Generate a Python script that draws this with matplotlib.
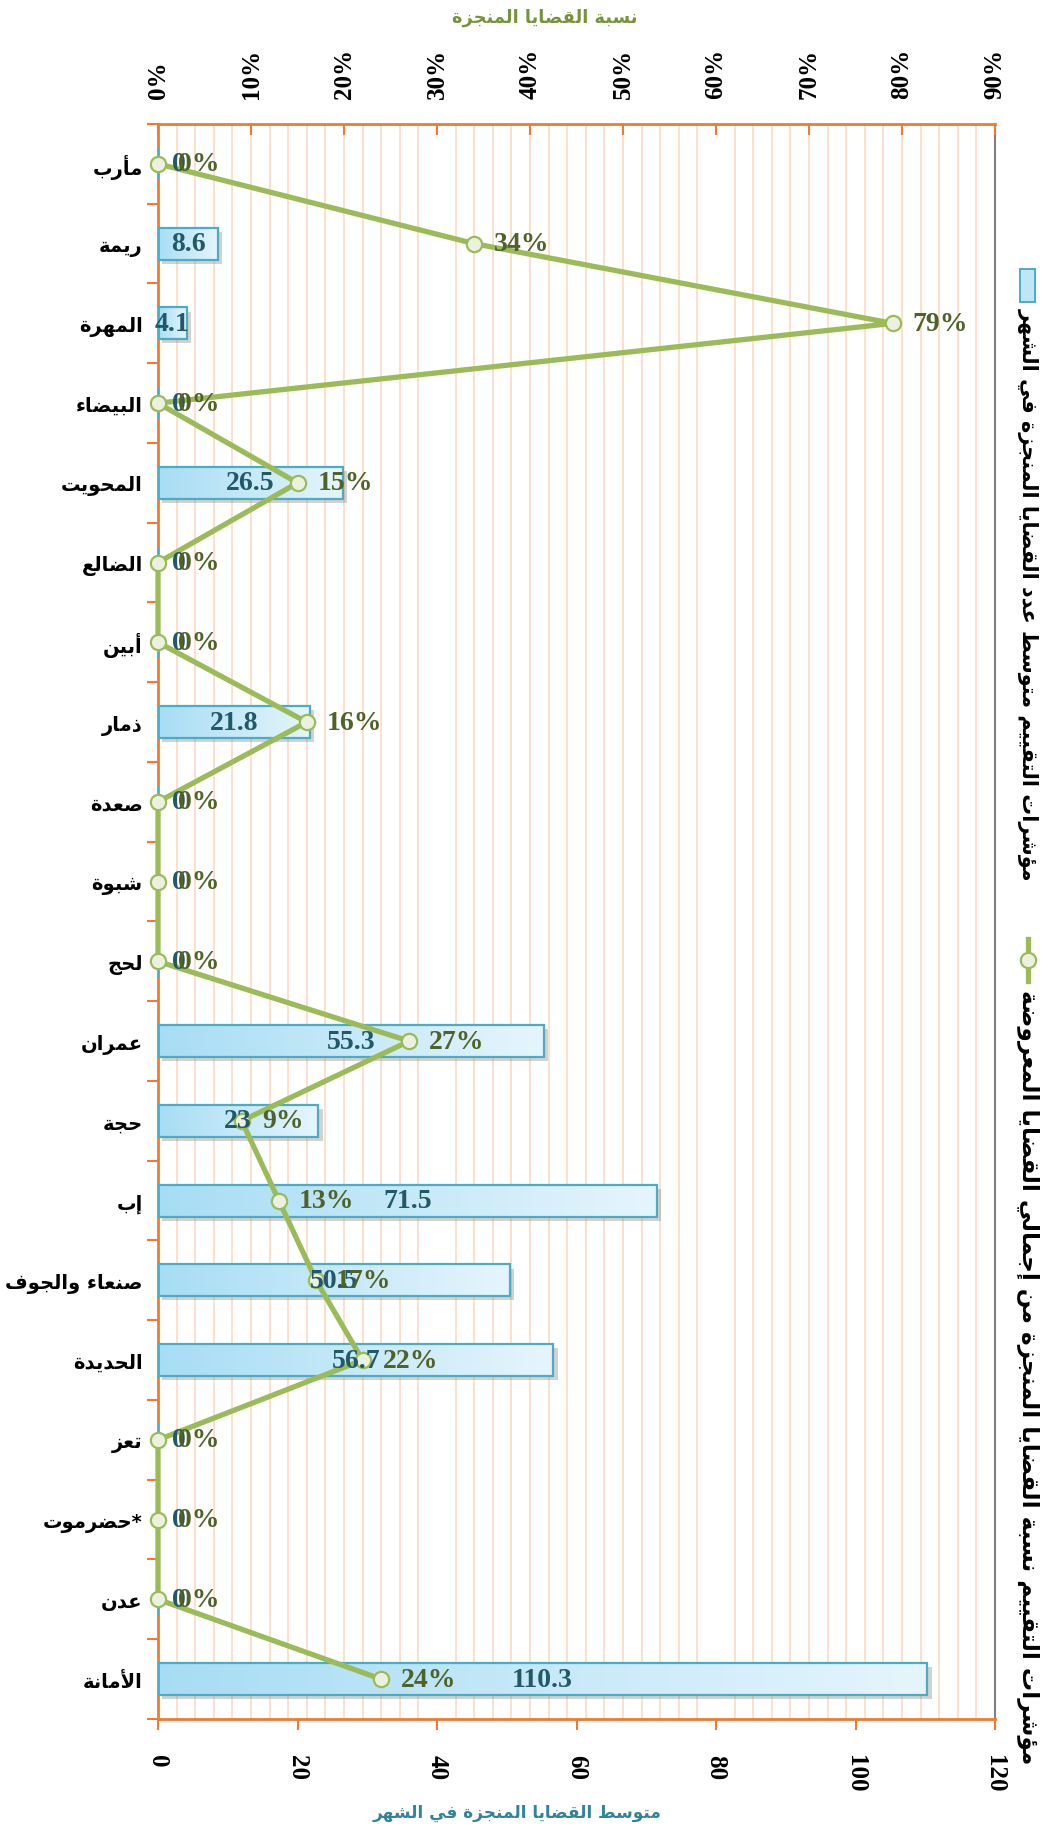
import numpy as np
import matplotlib
matplotlib.use('Agg')
import matplotlib.pyplot as plt
import matplotlib.patheffects as pe
from matplotlib.colors import LinearSegmentedColormap
from matplotlib.patches import Rectangle
from matplotlib.lines import Line2D

# ---------------- data ----------------
categories = ['مأرب', 'ريمة', 'المهرة', 'البيضاء', 'المحويت', 'الضالع', 'أبين', 'ذمار',
              'صعدة', 'شبوة', 'لحج', 'عمران', 'حجة', 'إب', 'صنعاء والجوف', 'الحديدة',
              'تعز', 'حضرموت*', 'عدن', 'الأمانة']
avg_cases = [0, 8.6, 4.1, 0, 26.5, 0, 0, 21.8, 0, 0, 0, 55.3, 23, 71.5, 50.5, 56.7, 0, 0, 0, 110.3]
pct_done = [0, 0.34, 0.79, 0, 0.15, 0, 0, 0.16, 0, 0, 0, 0.27, 0.09, 0.13, 0.17, 0.22, 0, 0, 0, 0.24]
bottom_ticks = [0, 20, 40, 60, 80, 100, 120]
top_ticks = [0, 0.1, 0.2, 0.3, 0.4, 0.5, 0.6, 0.7, 0.8, 0.9]
top_title = 'نسبة القضايا المنجزة'
bottom_title = 'متوسط القضايا المنجزة في الشهر'
legend_bar = 'مؤشرات التقييم متوسط عدد القضايا المنجزة في الشهر'
legend_line = 'مؤشرات التقييم نسبة القضايا المنجزة من إجمالي القضايا المعروضة'

# ---------------- minimal Arabic shaping ----------------
FORMS = {
    '\u0621': ('\uFE80', None, None, None),
    '\u0622': ('\uFE81', '\uFE82', None, None),
    '\u0623': ('\uFE83', '\uFE84', None, None),
    '\u0624': ('\uFE85', '\uFE86', None, None),
    '\u0625': ('\uFE87', '\uFE88', None, None),
    '\u0626': ('\uFE89', '\uFE8A', '\uFE8B', '\uFE8C'),
    '\u0627': ('\uFE8D', '\uFE8E', None, None),
    '\u0628': ('\uFE8F', '\uFE90', '\uFE91', '\uFE92'),
    '\u0629': ('\uFE93', '\uFE94', None, None),
    '\u062A': ('\uFE95', '\uFE96', '\uFE97', '\uFE98'),
    '\u062B': ('\uFE99', '\uFE9A', '\uFE9B', '\uFE9C'),
    '\u062C': ('\uFE9D', '\uFE9E', '\uFE9F', '\uFEA0'),
    '\u062D': ('\uFEA1', '\uFEA2', '\uFEA3', '\uFEA4'),
    '\u062E': ('\uFEA5', '\uFEA6', '\uFEA7', '\uFEA8'),
    '\u062F': ('\uFEA9', '\uFEAA', None, None),
    '\u0630': ('\uFEAB', '\uFEAC', None, None),
    '\u0631': ('\uFEAD', '\uFEAE', None, None),
    '\u0632': ('\uFEAF', '\uFEB0', None, None),
    '\u0633': ('\uFEB1', '\uFEB2', '\uFEB3', '\uFEB4'),
    '\u0634': ('\uFEB5', '\uFEB6', '\uFEB7', '\uFEB8'),
    '\u0635': ('\uFEB9', '\uFEBA', '\uFEBB', '\uFEBC'),
    '\u0636': ('\uFEBD', '\uFEBE', '\uFEBF', '\uFEC0'),
    '\u0637': ('\uFEC1', '\uFEC2', '\uFEC3', '\uFEC4'),
    '\u0638': ('\uFEC5', '\uFEC6', '\uFEC7', '\uFEC8'),
    '\u0639': ('\uFEC9', '\uFECA', '\uFECB', '\uFECC'),
    '\u063A': ('\uFECD', '\uFECE', '\uFECF', '\uFED0'),
    '\u0641': ('\uFED1', '\uFED2', '\uFED3', '\uFED4'),
    '\u0642': ('\uFED5', '\uFED6', '\uFED7', '\uFED8'),
    '\u0643': ('\uFED9', '\uFEDA', '\uFEDB', '\uFEDC'),
    '\u0644': ('\uFEDD', '\uFEDE', '\uFEDF', '\uFEE0'),
    '\u0645': ('\uFEE1', '\uFEE2', '\uFEE3', '\uFEE4'),
    '\u0646': ('\uFEE5', '\uFEE6', '\uFEE7', '\uFEE8'),
    '\u0647': ('\uFEE9', '\uFEEA', '\uFEEB', '\uFEEC'),
    '\u0648': ('\uFEED', '\uFEEE', None, None),
    '\u0649': ('\uFEEF', '\uFEF0', None, None),
    '\u064A': ('\uFEF1', '\uFEF2', '\uFEF3', '\uFEF4'),
}
LAM_ALEF = {'\u0622': ('\uFEF5', '\uFEF6'), '\u0623': ('\uFEF7', '\uFEF8'),
            '\u0625': ('\uFEF9', '\uFEFA'), '\u0627': ('\uFEFB', '\uFEFC')}


def _shape_core(text):
    items = []
    i = 0
    while i < len(text):
        c = text[i]
        if c == '\u0644' and i + 1 < len(text) and text[i + 1] in LAM_ALEF:
            items.append(('LA', text[i + 1]))
            i += 2
        else:
            items.append((c, None))
            i += 1

    def dual(it):
        if it[0] == 'LA':
            return False
        f = FORMS.get(it[0])
        return f is not None and f[2] is not None

    def joining(it):
        if it[0] == 'LA':
            return True
        f = FORMS.get(it[0])
        return f is not None and f[1] is not None

    res = []
    for k, it in enumerate(items):
        prev = items[k - 1] if k > 0 else None
        nxt = items[k + 1] if k + 1 < len(items) else None
        jp = prev is not None and dual(prev) and joining(it)
        jn = dual(it) and nxt is not None and joining(nxt)
        if it[0] == 'LA':
            res.append(LAM_ALEF[it[1]][1 if jp else 0])
            continue
        f = FORMS.get(it[0])
        if f is None:
            res.append(it[0])
        elif jp and jn:
            res.append(f[3])
        elif jp:
            res.append(f[1])
        elif jn:
            res.append(f[2])
        else:
            res.append(f[0])
    return ''.join(reversed(res))


def ar(text):
    trail = ''
    while text and text[-1] in '*':
        trail = text[-1] + trail
        text = text[:-1]
    return _shape_core(text) + trail


# ---------------- styling ----------------
W, H = 1042, 1831
fig = plt.figure(figsize=(W / 100, H / 100), dpi=100)
fig.patch.set_facecolor('white')


def fx(px):
    return px / W


def fy(py):
    return 1 - py / H


L, R, T, B = 158, 995, 125, 1720
ax = fig.add_axes([fx(L), fy(B), (R - L) / W, (B - T) / H])
ax2 = ax.twiny()

ORANGE = '#ee7b30'
GRID = '#fce0cc'
GREEN = '#9bbb59'
BAR_EDGE = '#4bacc6'
BAR_LBL = '#215968'
PCT_LBL = '#4f6228'
NUM_FONT = dict(family=['Liberation Serif', 'DejaVu Serif'], weight='bold')
AR_FONT = dict(family=['DejaVu Sans'], weight='bold')
LBL_SIZE = 20

n = len(categories)
ypos = np.arange(n)

# bars with shadow
bars = ax.barh(ypos, avg_cases, height=0.4, color='#c3e8f8', edgecolor='none', zorder=2,
               path_effects=[pe.SimplePatchShadow(offset=(3, -3), shadow_rgbFace='#7f7f7f', alpha=0.35),
                             pe.Normal()])
cmap = LinearSegmentedColormap.from_list('g', ['#a7ddf4', '#c6e9f8', '#e6f5fc'])
grad = np.linspace(0, 1, 256).reshape(1, -1)
for p in bars:
    if p.get_width() <= 0:
        continue
    x0, y0 = p.get_x(), p.get_y()
    im = ax.imshow(grad, extent=[x0, x0 + p.get_width(), y0 + p.get_height(), y0],
                   aspect='auto', cmap=cmap, zorder=2.5, interpolation='bilinear')
    im.set_clip_path(p)
ax.barh(ypos, avg_cases, height=0.4, facecolor='none', edgecolor=BAR_EDGE, linewidth=1.6, zorder=3)

# line on secondary (top) axis
ax2.plot(pct_done, ypos, '-o', color=GREEN, lw=3.8, ms=11, mfc='#ebf1de', mec=GREEN, mew=1.6,
         clip_on=False, zorder=5)

# bar labels (drawn above the line, positioned in bar-axis data coords)
for i, v in enumerate(avg_cases):
    s = f'{v:g}'
    if v == 0:
        ax2.annotate(s, (0, i), xycoords=ax.transData, xytext=(10, 0), textcoords='offset points',
                     ha='left', va='center', color=BAR_LBL, fontsize=LBL_SIZE, zorder=6, **NUM_FONT)
    else:
        ax2.text(v / 2, i, s, transform=ax.transData, ha='center', va='center', color=BAR_LBL,
                 fontsize=LBL_SIZE, zorder=6, **NUM_FONT)

for i, p in enumerate(pct_done):
    ax2.annotate(f'{round(p * 100)}%', (p, i), xytext=(14.5, 0), textcoords='offset points',
                 ha='left', va='center', color=PCT_LBL, fontsize=LBL_SIZE, zorder=7, **NUM_FONT)

# limits
ax.set_xlim(0, 120)
ax.set_ylim(n - 0.5, -0.5)
ax2.set_xlim(0, 0.9)
ax2.set_ylim(n - 0.5, -0.5)

# grid (every 2% of top axis)
ax.set_xticks(bottom_ticks)
ax.set_xticks(np.linspace(0, 120, 46), minor=True)
ax.grid(True, which='minor', axis='x', color=GRID, lw=1.4, zorder=0)
ax.set_axisbelow(True)
ax.tick_params(axis='x', which='minor', length=0)

# bottom axis
ax.set_xticklabels([str(t) for t in bottom_ticks], fontsize=18, **NUM_FONT)
ax.tick_params(axis='x', which='major', direction='out', length=8, width=1.5, color=ORANGE, pad=17)

# top axis
ax2.set_xticks(top_ticks)
ax2.set_xticklabels([f'{round(t * 100)}%' for t in top_ticks], fontsize=18, **NUM_FONT)
ax2.tick_params(axis='x', which='major', direction='in', length=8, width=1.5, color=ORANGE, pad=19)
ax2.tick_params(axis='y', left=False, right=False, labelleft=False, labelright=False)

# y axis (categories)
ax.set_yticks(ypos)
ax.set_yticklabels([ar(c) for c in categories], fontsize=14, **AR_FONT)
ax.tick_params(axis='y', which='major', length=0, pad=11)
ax.set_yticks(np.arange(-0.5, n, 1), minor=True)
ax.tick_params(axis='y', which='minor', direction='out', length=8, width=1.5, color=ORANGE)

for s in ['left', 'bottom']:
    ax.spines[s].set_color(ORANGE)
    ax.spines[s].set_linewidth(2)
ax.spines['top'].set_visible(False)
ax.spines['right'].set_color('#808080')
ax.spines['right'].set_linewidth(1.5)
for s in ['left', 'bottom', 'right']:
    ax2.spines[s].set_visible(False)
ax2.spines['top'].set_color(ORANGE)
ax2.spines['top'].set_linewidth(2)

# rotated tick labels: anchor at text start
for t in ax.get_xticklabels():
    t.set_rotation(-90)
    t.set_rotation_mode('anchor')
    t.set_ha('left')
    t.set_va('center')
for t in ax2.get_xticklabels():
    t.set_rotation(90)
    t.set_rotation_mode('anchor')
    t.set_ha('left')
    t.set_va('center')

# axis titles
t_top = fig.text(fx(545), fy(18), ar(top_title), ha='center', va='center', color='#77933c',
                 fontsize=14, **AR_FONT)
t_bot = fig.text(fx(517), fy(1813), ar(bottom_title), ha='center', va='center', color='#31849b',
                 fontsize=14, **AR_FONT)

# legend (vertical, right side)
lx = 1028
fig.patches.append(Rectangle((fx(1020), fy(303)), 15 / W, 33 / H, transform=fig.transFigure,
                             facecolor='#bfe6f7', edgecolor=BAR_EDGE, lw=1.4))
t_l1 = fig.text(fx(lx), fy(308), ar(legend_bar), rotation=-90, ha='center', va='top', fontsize=14,
                color='black', **AR_FONT)
fig.lines.append(Line2D([fx(lx), fx(lx)], [fy(940), fy(982)], transform=fig.transFigure, color=GREEN,
                        lw=3.8))
fig.lines.append(Line2D([fx(lx)], [fy(961)], transform=fig.transFigure, marker='o', ms=11,
                        mfc='#ebf1de', mec=GREEN, mew=1.6, color=GREEN))
t_l2 = fig.text(fx(lx), fy(990), ar(legend_line), rotation=-90, ha='center', va='top', fontsize=14,
                color='black', **AR_FONT)

# fit text sizes to reference extents
fig.canvas.draw()
r = fig.canvas.get_renderer()


def fit(t, target, dim=0):
    bb = t.get_window_extent(r)
    cur = bb.width if dim == 0 else bb.height
    t.set_fontsize(t.get_fontsize() * target / cur)


fit(t_top, 186)
fit(t_bot, 290)
fit(t_l1, 574, dim=1)
fit(t_l2, 780, dim=1)
lbls = ax.get_yticklabels()
widest = max(lbls, key=lambda t: t.get_window_extent(r).width)
scale = 138 / widest.get_window_extent(r).width
for t in lbls:
    t.set_fontsize(t.get_fontsize() * scale)

fig.savefig('out.png', dpi=100)
